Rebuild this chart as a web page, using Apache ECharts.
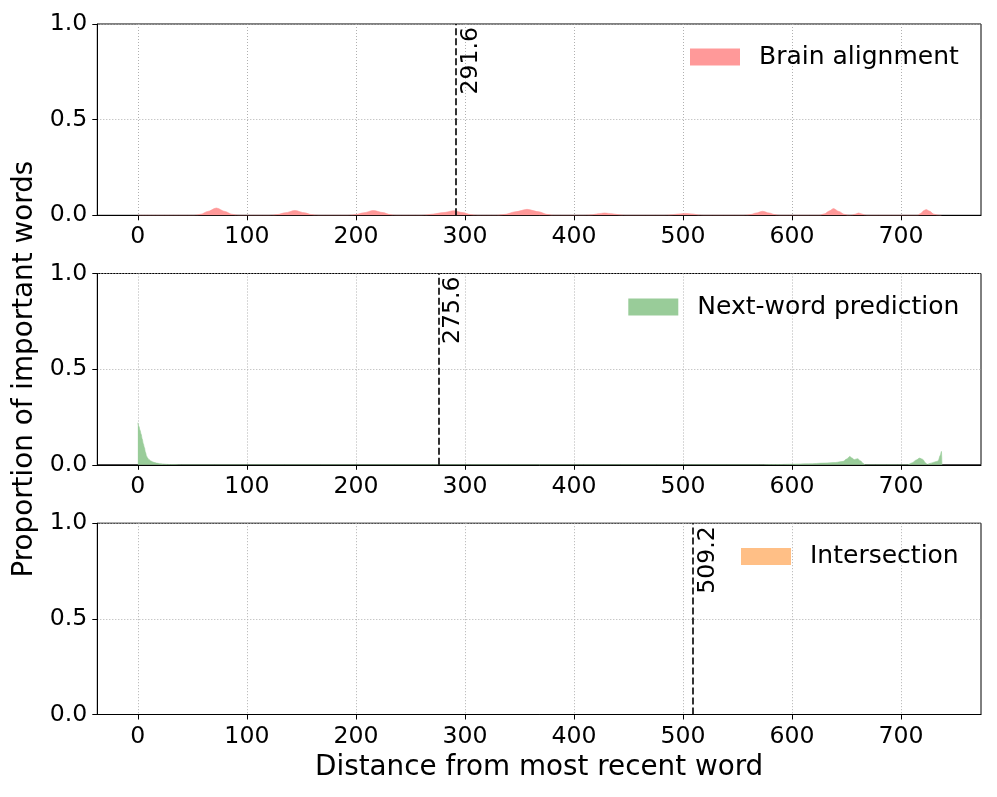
<!DOCTYPE html>
<html>
<head>
<meta charset="utf-8">
<script src="https://cdn.jsdelivr.net/npm/echarts@6/dist/echarts.min.js"></script>
<style>html,body{margin:0;padding:0;background:#fff;}#c{width:997px;height:797px;}</style>
</head>
<body>
<div id="c"></div>
<script>
// ---- data ----
const xTicks = [0, 100, 200, 300, 400, 500, 600, 700];
const yTicks = [0, 0.5, 1.0];
const seriesNames = ['Brain alignment', 'Next-word prediction', 'Intersection'];
const meanDistances = [291.6, 275.6, 509.2];

const brainDist = [0, 52, 58, 64, 72, 80, 86, 92,
  121, 128, 135, 144, 153, 159, 165,
  193, 200, 207, 216, 225, 231, 236,
  261, 270, 280, 290, 298, 305, 311,
  329, 337, 346, 357, 368, 375, 381,
  410, 417, 422, 428, 435, 441, 447,
  484, 490, 496, 502, 509, 514, 518,
  556, 562, 567, 573, 579, 584, 588,
  625, 630, 634, 638, 643, 648, 652,
  654, 658, 661, 664, 668,
  715, 718, 721, 723, 726, 730, 735, 737];
const brainProp = [0, 0, 0.006, 0.02, 0.038, 0.02, 0.006, 0,
  0, 0.004, 0.013, 0.025, 0.013, 0.004, 0,
  0, 0.004, 0.013, 0.025, 0.014, 0.004, 0,
  0, 0.006, 0.014, 0.024, 0.014, 0.004, 0,
  0, 0.005, 0.018, 0.031, 0.018, 0.005, 0,
  0, 0.003, 0.008, 0.012, 0.008, 0.003, 0,
  0, 0.003, 0.007, 0.01, 0.007, 0.002, 0,
  0, 0.004, 0.012, 0.021, 0.012, 0.004, 0,
  0, 0.008, 0.022, 0.035, 0.02, 0.005, 0,
  0, 0.006, 0.012, 0.007, 0,
  0, 0.01, 0.025, 0.03, 0.022, 0.006, 0, 0];

const nextDist = [0, 1, 2, 3, 4, 5, 6, 7, 8, 9, 10, 12, 14, 17, 20, 25, 30, 40,
  570, 585, 600, 615, 630, 640, 647, 650, 653, 655, 657, 660, 663, 665, 667,
  706, 710, 714, 717, 720, 722, 724, 727, 731, 734, 736, 737, 737.5];
const nextProp = [0.22, 0.2, 0.18, 0.16, 0.135, 0.11, 0.09, 0.065, 0.045, 0.035, 0.028, 0.02, 0.014, 0.009, 0.006, 0.003, 0.001, 0,
  0, 0.001, 0.003, 0.005, 0.009, 0.012, 0.018, 0.03, 0.044, 0.035, 0.027, 0.032, 0.02, 0.008, 0,
  0, 0.01, 0.025, 0.035, 0.028, 0.012, 0.002, 0.008, 0.015, 0.02, 0.05, 0.07, 0];

const interDist = [0, 737];
const interProp = [0, 0];

const colors = ['#ff9999', '#99cc99', '#ffbf86'];

// ---- chart ----
const FONT = 'DejaVu Sans';
const TICK_FS = 23.6, LEGEND_FS = 25, LABEL_FS = 27.8;
const gridTops = [24, 273.5, 523.2];
const gridLeft = 97.3, gridWidth = 883.7, gridHeight = 191.3;
const legendLefts = [690, 628.3, 741];
const legendTops = [44.5, 294.5, 544];

const zip = (a, b) => a.map((v, i) => [v, b[i]]);
const dists = [brainDist, nextDist, interDist];
const props = [brainProp, nextProp, interProp];

const grids = [], xAxes = [], yAxes = [], series = [], legends = [];
for (let i = 0; i < 3; i++) {
  grids.push({left: gridLeft, top: gridTops[i], width: gridWidth, height: gridHeight,
    show: true, borderColor: '#000', borderWidth: 1, backgroundColor: 'transparent'});
  xAxes.push({
    type: 'value', gridIndex: i, min: -37.2, max: 773.3,
    axisLine: {show: true, onZero: false, lineStyle: {color: '#000', width: 1}},
    axisTick: {show: true, length: 5, lineStyle: {color: '#000', width: 1}, customValues: xTicks},
    axisLabel: {customValues: xTicks, fontFamily: FONT, fontSize: TICK_FS, color: '#000', margin: 10},
    splitLine: {show: true, lineStyle: {color: '#b0b0b0', type: [1, 2], width: 1}},
    name: i === 2 ? 'Distance from most recent word' : '',
    nameLocation: 'middle', nameGap: 39,
    nameTextStyle: {fontFamily: FONT, fontSize: LABEL_FS, color: '#000'}
  });
  yAxes.push({
    type: 'value', gridIndex: i, min: 0, max: 1, interval: 0.5,
    axisLine: {show: true, onZero: false, lineStyle: {color: '#000', width: 1}},
    axisTick: {show: true, length: 5, lineStyle: {color: '#000', width: 1}},
    axisLabel: {fontFamily: FONT, fontSize: TICK_FS, color: '#000', margin: 10,
      formatter: v => v.toFixed(1)},
    splitLine: {show: true, lineStyle: {color: '#b0b0b0', type: [1, 2], width: 1}},
    name: i === 1 ? 'Proportion of important words' : '',
    nameLocation: 'middle', nameGap: 43,
    nameTextStyle: {fontFamily: FONT, fontSize: LABEL_FS, color: '#000'}
  });
  series.push({
    name: seriesNames[i], type: 'line', xAxisIndex: i, yAxisIndex: i,
    data: zip(dists[i], props[i]), symbol: 'none', color: colors[i],
    smooth: 0.3, smoothMonotone: 'x',
    lineStyle: {width: i === 2 ? 0 : 0.6, color: colors[i]},
    areaStyle: {color: colors[i], opacity: 1},
    z: 2,
    markLine: {
      silent: true, symbol: 'none', animation: false,
      lineStyle: {color: '#000', type: [7, 3], width: 1.6},
      label: {show: true, position: 'insideEndBottom', distance: 3,
        formatter: p => String(p.value), fontFamily: FONT, fontSize: TICK_FS, color: '#000'},
      data: [{xAxis: meanDistances[i]}]
    }
  });
  legends.push({
    data: [seriesNames[i]], left: legendLefts[i], top: legendTops[i], padding: 0,
    icon: 'rect', itemWidth: 50, itemHeight: 17, selectedMode: false,
    textStyle: {fontFamily: FONT, fontSize: LEGEND_FS, color: '#000', padding: [0, 0, 0, 14]}
  });
}

const chart = echarts.init(document.getElementById('c'), null, {renderer: 'canvas'});
chart.setOption({
  animation: false,
  backgroundColor: '#fff',
  grid: grids, xAxis: xAxes, yAxis: yAxes, series: series, legend: legends
});
</script>
</body>
</html>
